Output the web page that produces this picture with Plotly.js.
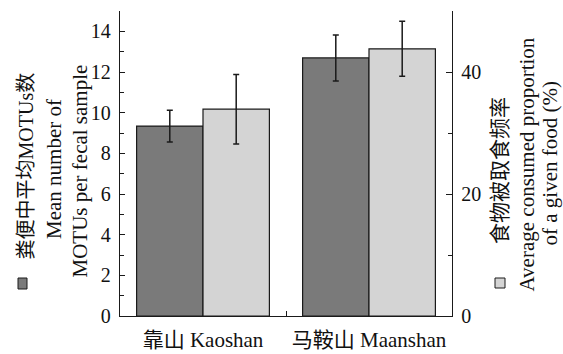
<!DOCTYPE html>
<html>
<head>
<meta charset="utf-8">
<script src="https://cdn.plot.ly/plotly-3.0.1.min.js"></script>
<style>html,body{margin:0;padding:0;background:#fff;}#chart{width:563px;height:354px;}</style>
</head>
<body>
<div id="chart"></div>
<script>
// Data
const categories = ['靠山 Kaoshan', '马鞍山 Maanshan'];
const motuMean = [9.34, 12.69];          // left axis: mean number of MOTUs per fecal sample
const motuErr = [0.78, 1.13];
const foodProp = [33.9, 43.8];           // right axis: average consumed proportion (%)
const foodErr = [5.7, 4.5];
const leftTicks = [0, 2, 4, 6, 8, 10, 12, 14];
const rightTicks = [0, 20, 40];

const W = 563, H = 354;
const M = {l: 120, r: 111, t: 11, b: 38};
const pw = W - M.l - M.r, ph = H - M.t - M.b;
const px = x => (x - M.l) / pw;
const py = y => (H - M.b - y) / ph;

const serif = 'Liberation Serif, Noto Sans CJK SC, serif';

const traces = [
  {
    type: 'bar', x: categories, y: motuMean, yaxis: 'y',
    width: 0.4, offset: -0.4,
    marker: {color: '#7a7a7a', line: {color: '#1a1a1a', width: 1.2}},
    error_y: {type: 'data', array: motuErr, visible: true, color: '#1a1a1a', thickness: 1.5, width: 3},
    showlegend: false, hoverinfo: 'none'
  },
  {
    type: 'bar', x: categories, y: foodProp, yaxis: 'y2',
    width: 0.4, offset: 0,
    marker: {color: '#d4d4d4', line: {color: '#1a1a1a', width: 1.2}},
    error_y: {type: 'data', array: foodErr, visible: true, color: '#1a1a1a', thickness: 1.5, width: 3},
    showlegend: false, hoverinfo: 'none'
  }
];

function ann(text, x, y, size) {
  return {text: text, xref: 'paper', yref: 'paper', x: px(x), y: py(y),
    xanchor: 'center', yanchor: 'middle', textangle: -90, showarrow: false,
    font: {family: serif, size: size, color: '#111'}};
}

const layout = {
  width: W, height: H,
  margin: M,
  paper_bgcolor: '#fff', plot_bgcolor: '#fff',
  barmode: 'group',
  font: {family: serif, size: 20, color: '#111'},
  xaxis: {
    type: 'category', range: [-0.5, 1.5],
    showline: true, linecolor: '#1a1a1a', linewidth: 1.2,
    ticks: 'inside', tickson: 'boundaries', ticklen: 5, tickcolor: '#1a1a1a',
    showgrid: false, zeroline: false,
    tickfont: {family: serif, size: 21, color: '#111'},
    ticklabelstandoff: 5
  },
  yaxis: {
    range: [0, 15], tickvals: leftTicks,
    showline: true, linecolor: '#1a1a1a', linewidth: 1.2,
    ticks: 'inside', ticklen: 5, tickcolor: '#1a1a1a',
    minor: {dtick: 1, ticks: 'inside', ticklen: 4, tickcolor: '#1a1a1a', showgrid: false},
    showgrid: false, zeroline: false,
    tickfont: {family: serif, size: 20, color: '#111'},
    ticklabelstandoff: 4
  },
  yaxis2: {
    range: [0, 50], tickvals: rightTicks, overlaying: 'y', side: 'right',
    showline: true, linecolor: '#1a1a1a', linewidth: 1.2,
    ticks: 'inside', ticklen: 6, tickcolor: '#1a1a1a',
    minor: {dtick: 10, ticks: 'inside', ticklen: 4, tickcolor: '#1a1a1a', showgrid: false},
    showgrid: false, zeroline: false,
    tickfont: {family: serif, size: 20, color: '#111'},
    ticklabelstandoff: 4
  },
  annotations: [
    ann('粪便中平均MOTUs数', 25, 166.5, 20),
    ann('Mean number of', 54, 169, 21),
    ann('MOTUs per fecal sample', 79, 171.5, 21),
    ann('食物被取食频率', 500, 171, 21),
    ann('Average consumed proportion', 526, 164.5, 21),
    ann('of a given food (%)', 549, 163.5, 21)
  ],
  shapes: [
    {type: 'rect', xref: 'paper', yref: 'paper', x0: px(18), x1: px(27), y0: py(289), y1: py(278),
     fillcolor: '#7a7a7a', line: {color: '#1a1a1a', width: 1}},
    {type: 'rect', xref: 'paper', yref: 'paper', x0: px(495), x1: px(505), y0: py(288), y1: py(278),
     fillcolor: '#d4d4d4', line: {color: '#1a1a1a', width: 1}}
  ]
};

Plotly.newPlot('chart', traces, layout, {staticPlot: true, displayModeBar: false});
</script>
</body>
</html>
